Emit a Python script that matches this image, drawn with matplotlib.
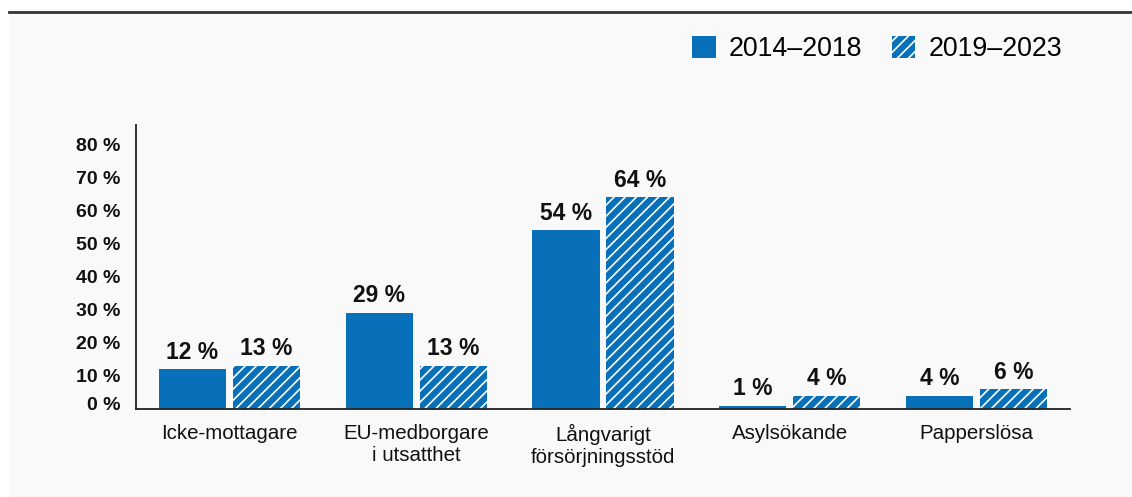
import numpy as np
import matplotlib
matplotlib.use("Agg")
import matplotlib.pyplot as plt
from matplotlib.patches import Patch, Rectangle
from matplotlib.lines import Line2D
from matplotlib.transforms import ScaledTranslation

plt.rcParams['font.family'] = ['Liberation Sans', 'DejaVu Sans']
plt.rcParams['hatch.linewidth'] = 1.2

categories = ['Icke-mottagare', 'EU-medborgare\ni utsatthet', 'Långvarigt\nförsörjningsstöd',
              'Asylsökande', 'Papperslösa']
period1 = [12, 29, 54, 1, 4]
period2 = [13, 13, 64, 4, 6]
series_names = ['2014–2018', '2019–2023']
yticks = [0, 10, 20, 30, 40, 50, 60, 70, 80]

blue = '#0870b8'
bg = '#f9f9f9'

fig = plt.figure(figsize=(11.32, 4.97), dpi=100)
fig.patch.set_facecolor('white')
# light panel under the header rule
fig.patches.append(Rectangle((9/1132, 0), 1, 1 - 14/497, transform=fig.transFigure,
                             facecolor=bg, edgecolor='none', zorder=-10))
fig.lines.append(Line2D([9/1132, 1], [1 - 12/497, 1 - 12/497], transform=fig.transFigure,
                        color='#333333', lw=2))

ax = fig.add_axes([136/1132, 1 - 409/497, 934/1132, 284/497])
ax.set_facecolor(bg)
ax.set_zorder(1)

x = np.arange(len(categories))
w = 0.36
off = 0.198
b1 = ax.bar(x - off, period1, w, color=blue, linewidth=0)
b2 = ax.bar(x + off, period2, w, color=blue, edgecolor='white', linewidth=0, hatch='///')

for bars, vals in ((b1, period1), (b2, period2)):
    for r, v in zip(bars, vals):
        ax.annotate(f'{v} %', (r.get_x() + r.get_width() / 2, r.get_height()),
                    xytext=(0, 4), textcoords='offset points', ha='center', va='bottom',
                    fontsize=16.5, fontweight='bold', color='#111111')

ax.set_xlim(-0.5, len(categories) - 0.5)
ax.set_ylim(0, 85.8)
ax.set_xticks(x)
ax.set_xticklabels(categories, fontsize=14.8, color='#111111', linespacing=1.2)
ax.set_yticks(yticks)
ax.set_yticklabels([f'{t} %' for t in yticks], fontsize=14, fontweight='bold', color='#111111')
ax.tick_params(axis='both', length=0)
ax.tick_params(axis='y', pad=11)
ax.tick_params(axis='x', pad=11)

for s in ('top', 'right'):
    ax.spines[s].set_visible(False)
ax.spines['left'].set_color('#222222')
ax.spines['bottom'].set_color('#222222')
ax.spines['left'].set_linewidth(1.3)
ax.spines['bottom'].set_linewidth(1.3)

# lift the 0 % label a bit off the baseline
lab0 = ax.get_yticklabels()[0]
lab0.set_transform(lab0.get_transform() + ScaledTranslation(0, 5/100, fig.dpi_scale_trans))

handles = [Patch(facecolor=blue, linewidth=0),
           Patch(facecolor=blue, edgecolor='white', linewidth=0, hatch='///')]
leg = fig.legend(handles, series_names, loc='upper right', bbox_to_anchor=(1062/1132, 1 - 36/497),
                 ncol=2, frameon=False, fontsize=19.3, handlelength=0.86, handleheight=0.86,
                 handletextpad=0.5, columnspacing=1.1, borderaxespad=0, borderpad=0)

fig.savefig('out.png', dpi=100, facecolor=fig.get_facecolor())
